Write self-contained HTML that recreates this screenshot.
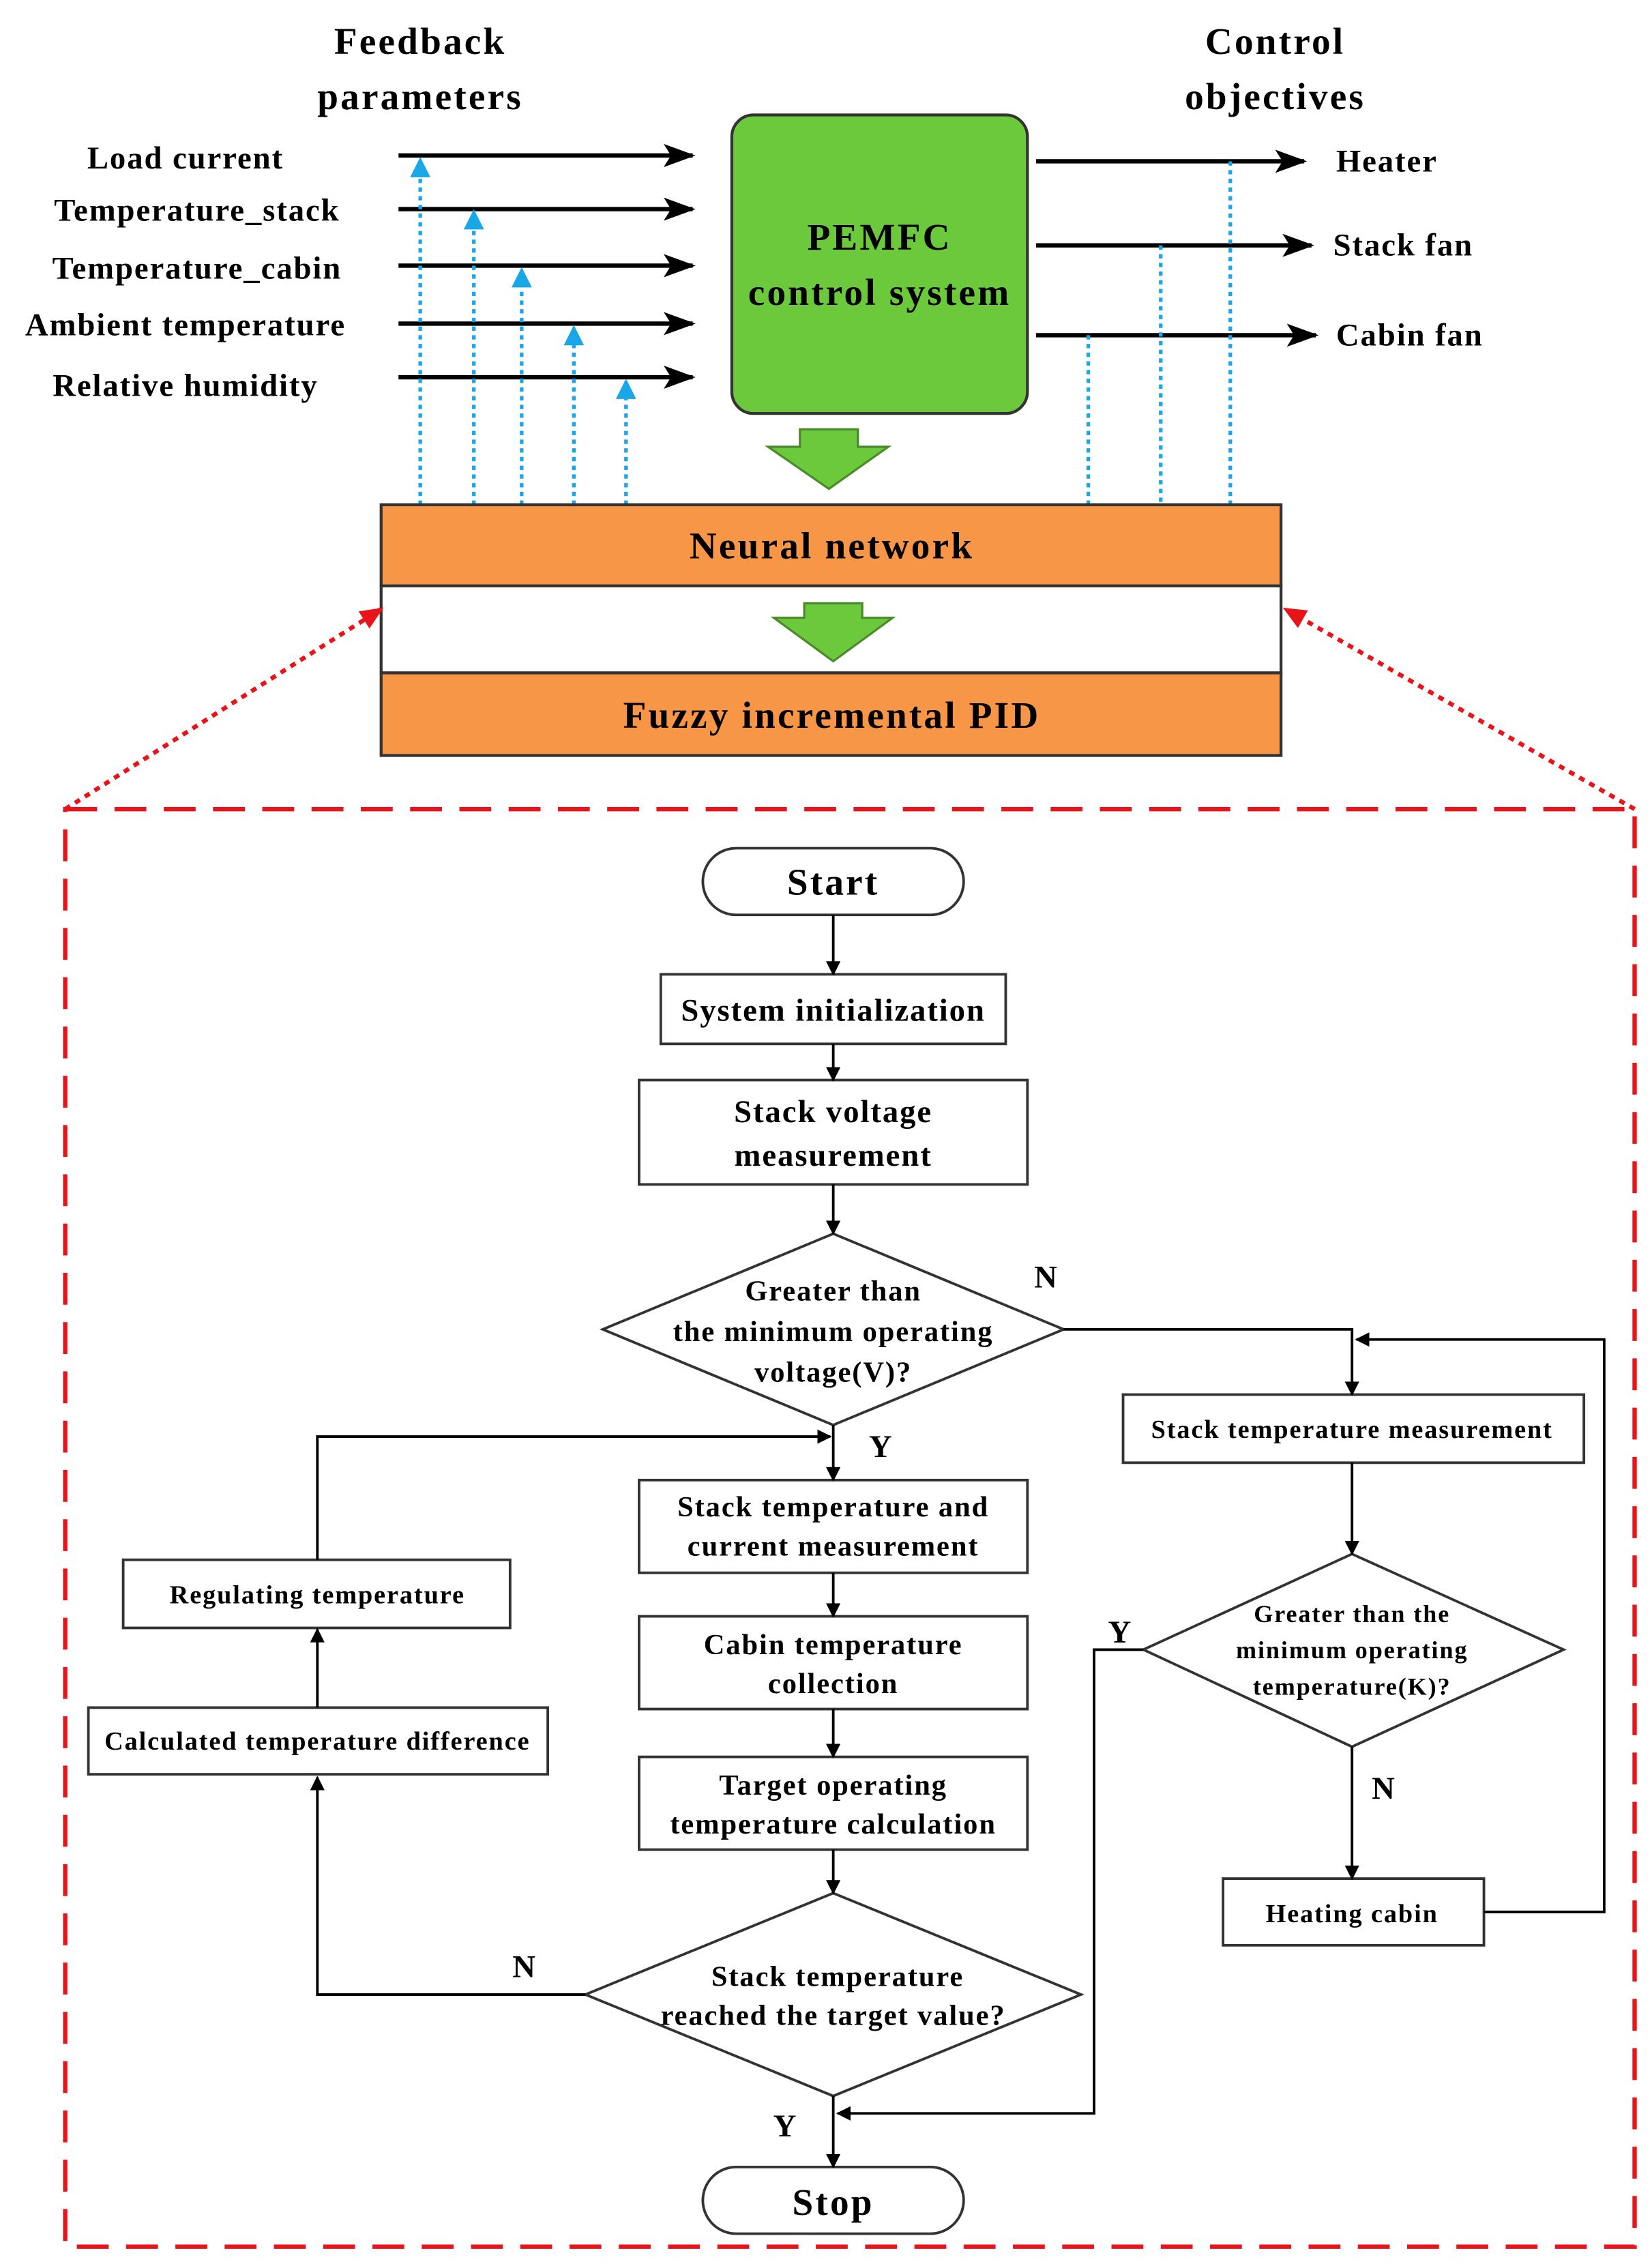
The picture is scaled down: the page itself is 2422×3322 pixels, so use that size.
<!DOCTYPE html>
<html><head><meta charset="utf-8"><style>
html,body{margin:0;padding:0;background:#fff;}
svg{display:block;}
text{font-family:"Liberation Serif",serif;font-weight:bold;fill:#000;letter-spacing:0.9px;}
.big{letter-spacing:1.5px;}
</style></head><body>
<svg width="2422" height="3322" viewBox="0 0 1140 1563" xmlns="http://www.w3.org/2000/svg">
<defs>
<marker id="a" markerWidth="10" markerHeight="10" refX="9" refY="5" orient="auto" markerUnits="userSpaceOnUse"><path d="M0,0 L10,5 L0,10 z" fill="#000"/></marker>
<marker id="ab" markerWidth="22" markerHeight="16" refX="20" refY="8" orient="auto" markerUnits="userSpaceOnUse"><path d="M0,0 L22,8 L0,16 L5,8 z" fill="#000"/></marker>
<marker id="bl" markerWidth="14" markerHeight="14" refX="12" refY="7" orient="auto" markerUnits="userSpaceOnUse"><path d="M0,0 L14,7 L0,14 z" fill="#1aa7e8"/></marker>
<marker id="rd" markerWidth="16" markerHeight="14" refX="14" refY="7" orient="auto" markerUnits="userSpaceOnUse"><path d="M0,0 L16,7 L0,14 z" fill="#e8141a"/></marker>
</defs>
<g font-size="26" text-anchor="middle" class="big">
<text class="big" x="290" y="37">Feedback</text><text class="big" x="290" y="75">parameters</text>
<text class="big" x="880" y="37">Control</text><text class="big" x="880" y="75">objectives</text>
</g>
<g font-size="22" text-anchor="middle">
<text x="128" y="116">Load current</text>
<text x="136" y="152">Temperature_stack</text>
<text x="136" y="192">Temperature_cabin</text>
<text x="128" y="231">Ambient temperature</text>
<text x="128" y="273">Relative humidity</text>
</g>
<g stroke="#000" stroke-width="3" marker-end="url(#ab)">
<line x1="275" y1="107" x2="478" y2="107"/>
<line x1="275" y1="144" x2="478" y2="144"/>
<line x1="275" y1="183" x2="478" y2="183"/>
<line x1="275" y1="223" x2="478" y2="223"/>
<line x1="275" y1="260" x2="478" y2="260"/>
<line x1="715" y1="111" x2="900" y2="111"/>
<line x1="715" y1="169" x2="905" y2="169"/>
<line x1="715" y1="231" x2="908" y2="231"/>
</g>
<g font-size="22" text-anchor="start">
<text x="922" y="118">Heater</text>
<text x="920" y="176">Stack fan</text>
<text x="922" y="238">Cabin fan</text>
</g>
<rect x="505" y="79" width="204" height="206" rx="15" fill="#6cc93c" stroke="#333" stroke-width="2"/>
<g font-size="26" text-anchor="middle"><text class="big" x="607" y="172">PEMFC</text><text class="big" x="607" y="210">control system</text></g>
<g stroke="#1aa7e8" stroke-width="2.5" stroke-dasharray="3,3" fill="none" marker-end="url(#bl)">
<line x1="290" y1="348" x2="290" y2="110"/>
<line x1="327" y1="348" x2="327" y2="146"/>
<line x1="360" y1="348" x2="360" y2="186"/>
<line x1="396" y1="348" x2="396" y2="226"/>
<line x1="432" y1="348" x2="432" y2="263"/>
</g>
<g stroke="#1aa7e8" stroke-width="2.5" stroke-dasharray="3,3">
<line x1="849" y1="111" x2="849" y2="348"/>
<line x1="801" y1="169" x2="801" y2="348"/>
<line x1="751" y1="231" x2="751" y2="348"/>
</g>
<path d="M552,296 H592 V308 H613 L572,337 L530,308 H552 Z" fill="#6cc93c" stroke="#4a8a2a" stroke-width="1.5"/>
<rect x="263" y="348" width="621" height="56" fill="#f79646" stroke="#333" stroke-width="2"/>
<rect x="263" y="404" width="621" height="60" fill="#fff" stroke="#333" stroke-width="2"/>
<rect x="263" y="464" width="621" height="57" fill="#f79646" stroke="#333" stroke-width="2"/>
<text class="big" x="574" y="385" font-size="26" text-anchor="middle">Neural network</text>
<text class="big" x="574" y="502" font-size="26" text-anchor="middle">Fuzzy incremental PID</text>
<path d="M555,416 H595 V426 H616 L575,456 L534,426 H555 Z" fill="#6cc93c" stroke="#4a8a2a" stroke-width="1.5"/>
<g stroke="#e8141a" stroke-width="3" stroke-dasharray="4,4" fill="none" marker-end="url(#rd)">
<line x1="45" y1="558" x2="263" y2="420"/>
<line x1="1128" y1="558" x2="887" y2="420"/>
</g>
<rect x="45" y="558" width="1083" height="992" fill="none" stroke="#e8141a" stroke-width="3" stroke-dasharray="22,12"/>
<g fill="#fff" stroke="#333" stroke-width="1.8">
<rect x="485" y="585" width="180" height="46" rx="23"/>
<rect x="456" y="672" width="238" height="48"/>
<rect x="441" y="745" width="268" height="72"/>
<polygon points="575,851 734,917 575,983 416,917"/>
<rect x="775" y="962" width="318" height="47"/>
<polygon points="933,1072 1079,1138 933,1205 789,1138"/>
<rect x="844" y="1296" width="180" height="46"/>
<rect x="441" y="1021" width="268" height="64"/>
<rect x="441" y="1115" width="268" height="64"/>
<rect x="441" y="1212" width="268" height="64"/>
<polygon points="575,1306 746,1376 575,1446 404,1376"/>
<rect x="61" y="1178" width="317" height="46"/>
<rect x="85" y="1076" width="267" height="47"/>
<rect x="485" y="1495" width="180" height="46" rx="23"/>
</g>
<g stroke="#000" stroke-width="1.8" fill="none" marker-end="url(#a)">
<line x1="575" y1="631" x2="575" y2="672"/>
<line x1="575" y1="720" x2="575" y2="745"/>
<line x1="575" y1="817" x2="575" y2="851"/>
<polyline points="734,917 933,917 933,962"/>
<line x1="933" y1="1009" x2="933" y2="1072"/>
<line x1="933" y1="1205" x2="933" y2="1296"/>
<polyline points="1024,1319 1107,1319 1107,924 936,924"/>
<polyline points="789,1138 755,1138 755,1458 578,1458"/>
<line x1="575" y1="983" x2="575" y2="1021"/>
<line x1="575" y1="1085" x2="575" y2="1115"/>
<line x1="575" y1="1179" x2="575" y2="1212"/>
<line x1="575" y1="1276" x2="575" y2="1306"/>
<polyline points="404,1376 219,1376 219,1226"/>
<line x1="219" y1="1178" x2="219" y2="1124"/>
<polyline points="219,1076 219,991 573,991"/>
<line x1="575" y1="1446" x2="575" y2="1495"/>
</g>
<g text-anchor="middle">
<text class="big" x="575" y="617" font-size="26">Start</text>
<text x="575" y="704" font-size="22">System initialization</text>
<text x="575" y="774" font-size="22">Stack voltage</text><text x="575" y="804" font-size="22">measurement</text>
<text x="575" y="897" font-size="20">Greater than</text>
<text x="575" y="925" font-size="20">the minimum operating</text>
<text x="575" y="953" font-size="20">voltage(V)?</text>
<text x="933" y="992" font-size="18">Stack temperature measurement</text>
<text x="933" y="1119" font-size="17">Greater than the</text>
<text x="933" y="1144" font-size="17">minimum operating</text>
<text x="933" y="1169" font-size="17">temperature(K)?</text>
<text x="933" y="1326" font-size="18">Heating cabin</text>
<text x="575" y="1046" font-size="20">Stack temperature and</text>
<text x="575" y="1073" font-size="20">current measurement</text>
<text x="575" y="1141" font-size="20">Cabin temperature</text>
<text x="575" y="1168" font-size="20">collection</text>
<text x="575" y="1238" font-size="20">Target operating</text>
<text x="575" y="1265" font-size="20">temperature calculation</text>
<text x="578" y="1370" font-size="20">Stack temperature</text>
<text x="575" y="1397" font-size="20">reached the target value?</text>
<text x="219" y="1207" font-size="18">Calculated temperature difference</text>
<text x="219" y="1106" font-size="18">Regulating temperature</text>
<text class="big" x="575" y="1528" font-size="26">Stop</text>
<text x="722" y="888" font-size="22">N</text>
<text x="608" y="1005" font-size="22">Y</text>
<text x="773" y="1133" font-size="22">Y</text>
<text x="955" y="1241" font-size="22">N</text>
<text x="362" y="1364" font-size="22">N</text>
<text x="542" y="1474" font-size="22">Y</text>
</g>
</svg>
</body></html>
